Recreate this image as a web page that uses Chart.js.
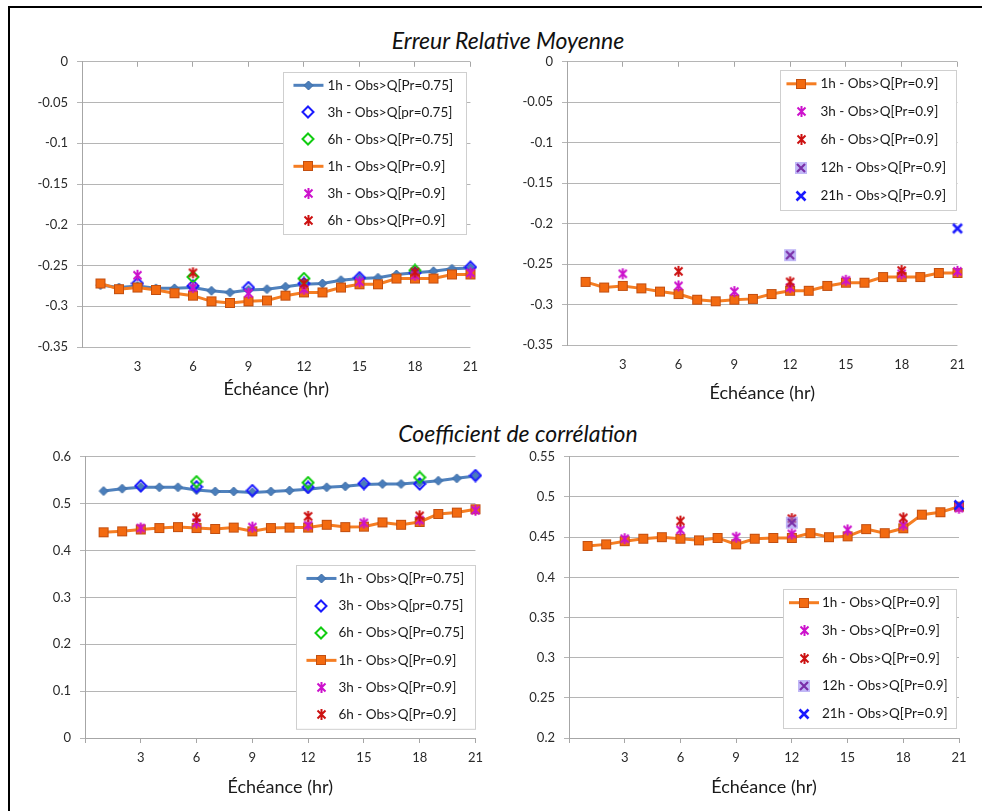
<!DOCTYPE html>
<html>
<head>
<meta charset="UTF-8">
<title>Erreur Relative Moyenne - Coefficient de corrélation</title>
<script src="https://cdn.jsdelivr.net/npm/chart.js@4.4.0/dist/chart.umd.min.js"></script>
<style>
*{ margin:0; padding:0; }
body{ width:982px; height:811px; overflow:hidden; background:#fff; position:relative; font-family:Lato, "Open Sans", sans-serif; }
#cadre{ position:absolute; left:8px; top:6px; width:1000px; height:830px; border:2px solid #000; }
.titre{ position:absolute; width:500px; text-align:center; font-style:italic; font-size:23px; color:#111; line-height:26px; }
canvas{ position:absolute; }
</style>
</head>
<body>
<div id="cadre"></div>
<div class="titre" style="left:258px; top:27px;">Erreur Relative Moyenne</div>
<div class="titre" style="left:268px; top:420px;">Coefficient de corrélation</div>
<canvas id="ermGauche" width="480" height="360" style="left:10px; top:45px;"></canvas>
<canvas id="ermDroite" width="482" height="360" style="left:495px; top:45px;"></canvas>
<canvas id="corGauche" width="480" height="360" style="left:10px; top:440px;"></canvas>
<canvas id="corDroite" width="482" height="360" style="left:495px; top:440px;"></canvas>
<script type="text/javascript">
// échéances
var heures = [1,2,3,4,5,6,7,8,9,10,11,12,13,14,15,16,17,18,19,20,21];
var heures3 = [3,6,9,12,15,18,21];
var heures6 = [6,12,18];
var heures12 = [12];
var heures21 = [21];

// erreur relative moyenne
var erm1hP75 = [-0.274,-0.277,-0.275,-0.278,-0.278,-0.277,-0.281,-0.283,-0.280,-0.279,-0.276,-0.273,-0.272,-0.268,-0.266,-0.265,-0.261,-0.259,-0.257,-0.254,-0.253];
var erm3hP75 = [-0.272,-0.275,-0.277,-0.272,-0.265,-0.259,-0.252];
var erm6hP75 = [-0.264,-0.266,-0.256];
var erm1hP9 = [-0.272,-0.279,-0.277,-0.280,-0.284,-0.287,-0.294,-0.296,-0.294,-0.293,-0.287,-0.283,-0.283,-0.277,-0.273,-0.273,-0.266,-0.266,-0.266,-0.261,-0.261];
var erm3hP9 = [-0.262,-0.277,-0.284,-0.279,-0.270,-0.262,-0.259];
var erm6hP9 = [-0.259,-0.272,-0.258];
var erm12hP9 = [-0.239];
var erm21hP9 = [-0.206];

// coefficient de corrélation
var cor1hP75 = [0.527,0.532,0.535,0.535,0.535,0.529,0.526,0.526,0.524,0.526,0.528,0.531,0.535,0.537,0.541,0.542,0.542,0.545,0.549,0.554,0.559];
var cor3hP75 = [0.538,0.536,0.528,0.535,0.543,0.542,0.560];
var cor6hP75 = [0.547,0.545,0.556];
var cor1hP9 = [0.439,0.441,0.445,0.448,0.450,0.448,0.446,0.449,0.441,0.448,0.449,0.449,0.455,0.450,0.451,0.460,0.455,0.461,0.478,0.481,0.488];
var cor3hP9 = [0.448,0.459,0.450,0.454,0.459,0.465,0.486];
var cor6hP9 = [0.470,0.473,0.474];
var cor12hP9 = [0.468];
var cor21hP9 = [0.490];

// libellés
var lib1hP75 = "1h - Obs>Q[Pr=0.75]";
var lib3hP75 = "3h - Obs>Q[pr=0.75]";
var lib6hP75 = "6h - Obs>Q[Pr=0.75]";
var lib1hP9 = "1h - Obs>Q[Pr=0.9]";
var lib3hP9 = "3h - Obs>Q[Pr=0.9]";
var lib6hP9 = "6h - Obs>Q[Pr=0.9]";
var lib12hP9 = "12h - Obs>Q[Pr=0.9]";
var lib21hP9 = "21h - Obs>Q[Pr=0.9]";
var titreX = "Échéance (hr)";

var police = 'Lato, "Open Sans", sans-serif';
Chart.defaults.font.family = police;

// petits marqueurs dessinés à la main (style Excel)
function marqueur(taille, dessin){
	var c = document.createElement('canvas');
	c.width = taille; c.height = taille;
	dessin(c.getContext('2d'), taille/2, taille);
	return c;
}
function losange(g, m, t, r){
	g.beginPath(); g.moveTo(m, m-r); g.lineTo(m+r, m); g.lineTo(m, m+r); g.lineTo(m-r, m); g.closePath();
}
var mLosangePlein = marqueur(11, function(g, m){
	losange(g, m, 11, 4.5); g.fillStyle = '#4a7ebb'; g.fill();
	g.strokeStyle = '#3d6ba3'; g.lineWidth = 1; g.stroke();
});
var mLosangeBleu = marqueur(14, function(g, m){
	losange(g, m, 14, 5.5); g.strokeStyle = '#1a1aff'; g.lineWidth = 2; g.stroke();
});
var mLosangeVert = marqueur(14, function(g, m){
	losange(g, m, 14, 5.5); g.strokeStyle = '#11cc11'; g.lineWidth = 2; g.stroke();
});
var mCarre = marqueur(12, function(g){
	g.fillStyle = '#f36a10'; g.fillRect(1, 1, 10, 10);
	g.strokeStyle = '#c24f10'; g.lineWidth = 1; g.strokeRect(1.5, 1.5, 9, 9);
});
function etoile(couleur){
	return marqueur(13, function(g){
		g.strokeStyle = couleur; g.lineWidth = 2;
		g.beginPath();
		g.moveTo(2.5, 2.5); g.lineTo(10.5, 10.5);
		g.moveTo(10.5, 2.5); g.lineTo(2.5, 10.5);
		g.moveTo(6.5, 1); g.lineTo(6.5, 12);
		g.stroke();
	});
}
var mEtoileRose = etoile('#cc11cc');
var mEtoileRouge = etoile('#cc1111');
var mCroixViolette = marqueur(14, function(g){
	g.fillStyle = 'rgba(150,135,240,0.6)'; g.fillRect(1, 1, 12, 12);
	g.strokeStyle = '#7a2fa8'; g.lineWidth = 2.2;
	g.beginPath(); g.moveTo(3, 3); g.lineTo(11, 11); g.moveTo(11, 3); g.lineTo(3, 11); g.stroke();
});
var mCroixBleue = marqueur(14, function(g){
	g.strokeStyle = '#1a1aff'; g.lineWidth = 2.6;
	g.beginPath(); g.moveTo(2.5, 2.5); g.lineTo(11.5, 11.5); g.moveTo(11.5, 2.5); g.lineTo(2.5, 11.5); g.stroke();
});

function pts(xs, ys){
	return xs.map(function(x, i){ return {x: x, y: ys[i]}; });
}
function serie(label, xs, ys, image, ligne){
	return {
		label: label,
		data: pts(xs, ys),
		pointStyle: image,
		pointRadius: 5,
		showLine: !!ligne,
		borderColor: ligne || 'rgba(0,0,0,0)',
		borderWidth: ligne ? 3 : 0,
		clip: false
	};
}

// légende encadrée dans la zone du graphique
var legendeBoite = {
	id: 'legendeBoite',
	afterDatasetsDraw: function(chart, args, o){
		var ctx = chart.ctx, a = chart.chartArea;
		var sets = chart.data.datasets;
		var x = a.right - o.droite - o.largeur, y = a.top + o.haut;
		var h = sets.length * o.ligne;
		ctx.save();
		ctx.fillStyle = '#fff';
		ctx.fillRect(x, y, o.largeur, h);
		ctx.strokeStyle = '#cfcfcf'; ctx.lineWidth = 1;
		ctx.strokeRect(Math.round(x)+0.5, Math.round(y)+0.5, o.largeur, h);
		ctx.font = '13.5px ' + police;
		ctx.textBaseline = 'middle';
		sets.forEach(function(ds, i){
			var cy = y + o.ligne*(i+0.5);
			var mx = x + o.marque;
			if (ds.showLine) {
				ctx.strokeStyle = ds.borderColor; ctx.lineWidth = ds.borderWidth;
				ctx.beginPath(); ctx.moveTo(mx-15, cy); ctx.lineTo(mx+15, cy); ctx.stroke();
			}
			var im = ds.pointStyle;
			ctx.drawImage(im, Math.round(mx - im.width/2), Math.round(cy - im.height/2));
			ctx.fillStyle = '#1a1a1a';
			ctx.fillText(ds.label, x + o.texte, cy);
		});
		ctx.restore();
	}
};

function fmt(v){ return String(+(+v).toFixed(2)); }

function graphique(id, sets, L){
	var echelles = {
		x: {
			type: 'linear', position: 'bottom', min: 0, max: 21,
			ticks: { stepSize: 3, autoSkip: false, maxRotation: 0, padding: L.xPad, color: '#2a2a2a', font: {size: 13},
				callback: function(v){ return v === 0 ? '' : v; } },
			grid: L.tiquesHaut ? { display: false, drawTicks: false }
				: { drawOnChartArea: false, drawTicks: true, tickLength: 5, color: '#a6a6a6' },
			border: { display: !L.tiquesHaut, color: '#a6a6a6' },
			title: { display: true, text: titreX, color: '#1a1a1a', font: {size: 18}, padding: {top: 0, bottom: L.titrePad} },
			afterFit: function(s){ s.height = L.xHaut; }
		},
		y: {
			min: L.ymin, max: L.ymax,
			ticks: { stepSize: L.pas, padding: 9, color: '#2a2a2a', font: {size: 13}, callback: fmt },
			grid: { color: '#b5b5b5', lineWidth: 1, drawTicks: true, tickLength: 5 },
			border: { color: '#a6a6a6', width: 1 },
			afterFit: function(s){ s.width = L.yLarg; }
		}
	};
	if (L.tiquesHaut) {
		echelles.xt = {
			type: 'linear', position: 'top', min: 0, max: 21,
			ticks: { display: false, stepSize: 3 },
			grid: { drawOnChartArea: false, drawTicks: true, tickLength: -5, color: '#a6a6a6' },
			border: { display: false },
			afterFit: function(s){ s.height = 0; }
		};
	}
	sets.forEach(function(ds, i){ ds.order = 50 - i; });
	return new Chart(document.getElementById(id), {
		type: 'line',
		data: { datasets: sets },
		options: {
			responsive: false,
			animation: false,
			devicePixelRatio: 1,
			layout: { padding: { top: L.haut, right: L.droite, left: 0, bottom: 0 } },
			scales: echelles,
			plugins: {
				legend: { display: false },
				tooltip: { enabled: false },
				legendeBoite: L.legende
			}
		},
		plugins: [legendeBoite]
	});
}

graphique('ermGauche', [
	serie(lib1hP75, heures, erm1hP75, mLosangePlein, '#4f81bd'),
	serie(lib3hP75, heures3, erm3hP75, mLosangeBleu),
	serie(lib6hP75, heures6, erm6hP75, mLosangeVert),
	serie(lib1hP9, heures, erm1hP9, mCarre, '#f57d22'),
	serie(lib3hP9, heures3, erm3hP9, mEtoileRose),
	serie(lib6hP9, heures6, erm6hP9, mEtoileRouge)
], { ymin: -0.35, ymax: 0, pas: 0.05, tiquesHaut: true, haut: 10, droite: 18, yLarg: 72, xHaut: 58, xPad: 12, titrePad: 5,
	legende: { droite: 4, haut: 10, largeur: 183, ligne: 27, marque: 25, texte: 44 } });

graphique('ermDroite', [
	serie(lib1hP9, heures, erm1hP9, mCarre, '#f57d22'),
	serie(lib3hP9, heures3, erm3hP9, mEtoileRose),
	serie(lib6hP9, heures6, erm6hP9, mEtoileRouge),
	serie(lib12hP9, heures12, erm12hP9, mCroixViolette),
	serie(lib21hP9, heures21, erm21hP9, mCroixBleue)
], { ymin: -0.35, ymax: 0, pas: 0.05, tiquesHaut: true, haut: 10, droite: 19, yLarg: 72, xHaut: 60, xPad: 12, titrePad: 1,
	legende: { droite: 1, haut: 8, largeur: 176, ligne: 28, marque: 21, texte: 40 } });

graphique('corGauche', [
	serie(lib1hP75, heures, cor1hP75, mLosangePlein, '#4f81bd'),
	serie(lib3hP75, heures3, cor3hP75, mLosangeBleu),
	serie(lib6hP75, heures6, cor6hP75, mLosangeVert),
	serie(lib1hP9, heures, cor1hP9, mCarre, '#f57d22'),
	serie(lib3hP9, heures3, cor3hP9, mEtoileRose),
	serie(lib6hP9, heures6, cor6hP9, mEtoileRouge)
], { ymin: 0, ymax: 0.6, pas: 0.1, tiquesHaut: false, haut: 16, droite: 8, yLarg: 75, xHaut: 62, xPad: 7, titrePad: 2,
	legende: { droite: 0, haut: 108, largeur: 179, ligne: 27.3, marque: 25, texte: 42 } });

graphique('corDroite', [
	serie(lib1hP9, heures, cor1hP9, mCarre, '#f57d22'),
	serie(lib3hP9, heures3, cor3hP9, mEtoileRose),
	serie(lib6hP9, heures6, cor6hP9, mEtoileRouge),
	serie(lib12hP9, heures12, cor12hP9, mCroixViolette),
	serie(lib21hP9, heures21, cor21hP9, mCroixBleue)
], { ymin: 0.2, ymax: 0.55, pas: 0.05, tiquesHaut: false, haut: 16, droite: 18, yLarg: 74, xHaut: 62, xPad: 7, titrePad: 2,
	legende: { droite: 3, haut: 132, largeur: 173, ligne: 27.8, marque: 21, texte: 39 } });
</script>
</body>
</html>
